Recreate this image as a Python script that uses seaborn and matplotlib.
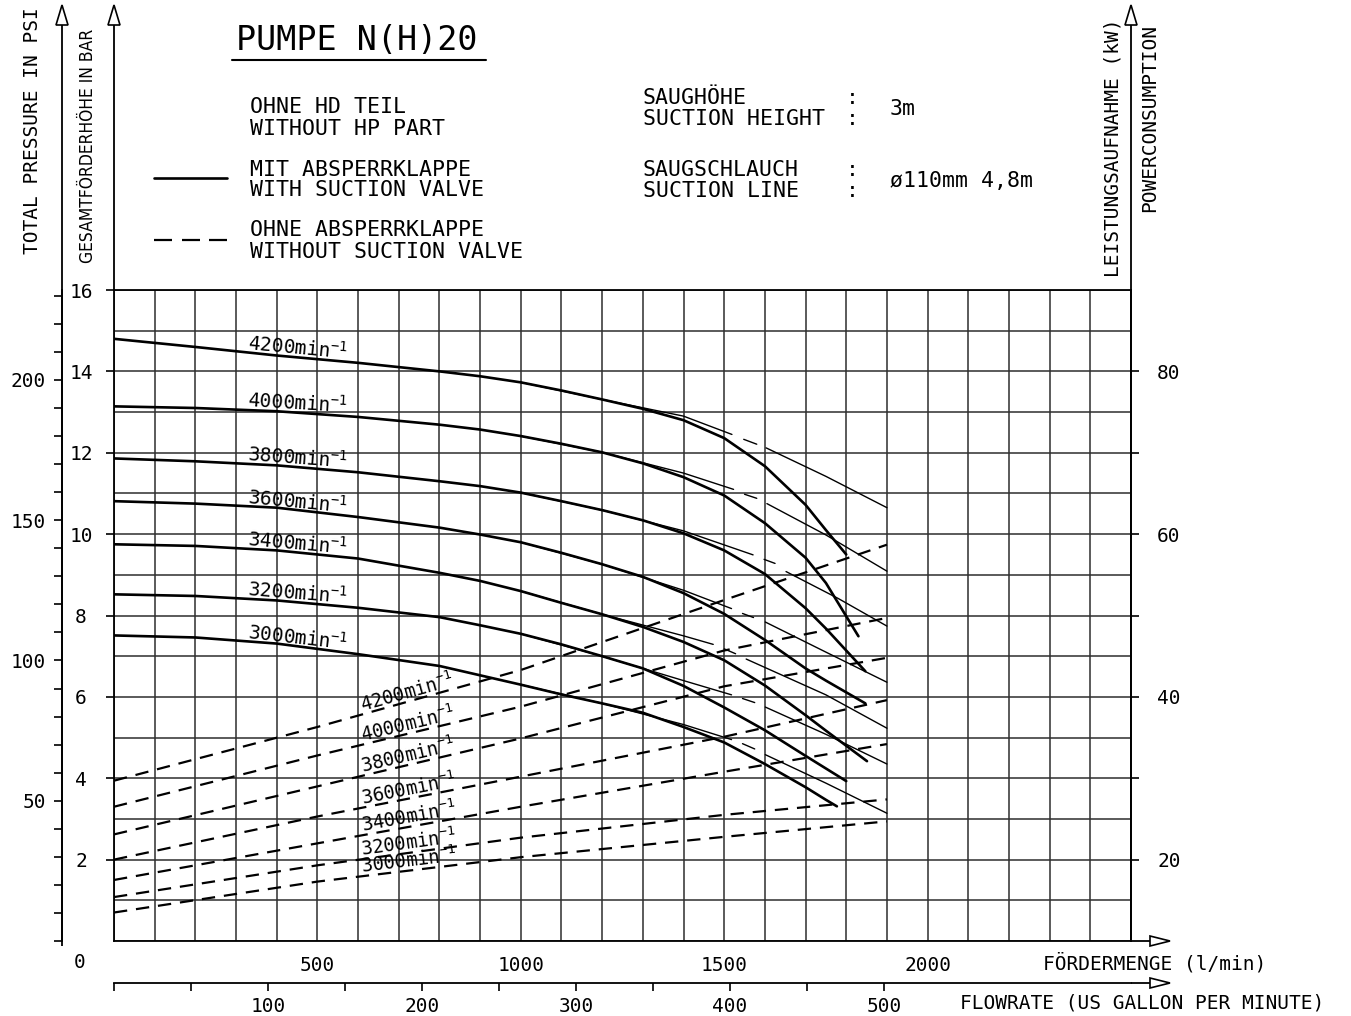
import numpy as np
import matplotlib
matplotlib.use("Agg")
import matplotlib.pyplot as plt
import seaborn as sns
from matplotlib.patches import Polygon
from matplotlib.ticker import MultipleLocator

sns.set_theme(style="white")
plt.rcParams['font.family'] = ['DejaVu Sans Mono', 'DejaVu Sans']
plt.rcParams['mathtext.default'] = 'regular'
plt.rcParams['text.color'] = 'black'

nan = np.nan

SPEEDS = [4200, 4000, 3800, 3600, 3400, 3200, 3000]

# head with suction valve (bar) over flow (l/min)
Q_HEAD = [0, 200, 400, 600, 800, 900, 1000, 1100, 1200, 1300, 1400, 1500, 1600, 1700, 1750]
H_4200 = [14.80, 14.60, 14.39, 14.21, 14.00, 13.88, 13.73, 13.53, 13.31, 13.08, 12.80, 12.36, 11.67, 10.72, 10.10]
H_4000 = [13.14, 13.10, 13.02, 12.88, 12.69, 12.57, 12.41, 12.22, 12.01, 11.74, 11.40, 10.95, 10.27, 9.42, 8.80]
H_3800 = [11.86, 11.79, 11.69, 11.52, 11.30, 11.18, 11.02, 10.81, 10.59, 10.34, 10.02, 9.60, 9.02, 8.18, 7.68]
H_3600 = [10.81, 10.75, 10.65, 10.42, 10.16, 9.99, 9.80, 9.54, 9.26, 8.95, 8.55, 8.04, 7.40, 6.70, 6.40]
H_3400 = [9.75, 9.71, 9.60, 9.40, 9.05, 8.85, 8.60, 8.31, 8.03, 7.72, 7.35, 6.90, 6.28, 5.55, 5.17]
H_3200 = [8.52, 8.48, 8.37, 8.19, 7.96, 7.76, 7.55, 7.29, 7.00, 6.70, 6.27, 5.74, 5.18, 4.55, 4.24]
H_3000 = [7.51, 7.46, 7.31, 7.05, 6.76, 6.53, 6.30, 6.06, 5.84, 5.61, 5.26, 4.88, 4.35, 3.78, 3.47]
HEAD_END_Q = [1800, 1830, 1847, 1847, 1851, 1800, 1777]
HEAD_END_H = [9.50, 7.49, 6.63, 5.84, 4.42, 3.93, 3.31]

# head without suction valve (nan = gap of the long-dash line)
Q_NV_4200 = [1000, 1200, 1400, 1519, nan, 1548, 1580, nan, 1603, 1750, 1900]
H_NV_4200 = [13.73, 13.31, 12.90, 12.45, nan, 12.33, 12.21, nan, 12.12, 11.42, 10.65]
Q_NV_4000 = [1000, 1200, 1400, 1523, nan, 1550, 1580, nan, 1605, 1750, 1900]
H_NV_4000 = [12.41, 12.01, 11.50, 11.10, nan, 10.98, 10.88, nan, 10.75, 9.98, 9.09]
Q_NV_3800 = [1000, 1200, 1400, 1571, nan, 1598, 1625, nan, 1652, 1780, 1900]
H_NV_3800 = [11.02, 10.59, 10.08, 9.49, nan, 9.38, 9.28, nan, 9.08, 8.42, 7.74]
Q_NV_3600 = [1000, 1200, 1400, 1518, nan, 1545, 1572, nan, 1601, 1750, 1900]
H_NV_3600 = [9.80, 9.26, 8.62, 8.17, nan, 8.05, 7.95, nan, 7.84, 7.10, 6.36]
Q_NV_3400 = [1000, 1200, 1400, 1473, nan, 1500, 1528, nan, 1554, 1750, 1900]
H_NV_3400 = [8.60, 8.03, 7.50, 7.29, nan, 7.18, 7.06, nan, 6.93, 6.05, 5.23]
Q_NV_3200 = [1000, 1200, 1400, 1518, nan, 1545, 1575, nan, 1601, 1750, 1900]
H_NV_3200 = [7.55, 7.00, 6.40, 6.05, nan, 5.96, 5.86, nan, 5.75, 5.08, 4.35]
Q_NV_3000 = [1000, 1200, 1400, 1518, nan, 1545, 1575, nan, 1601, 1750, 1900]
H_NV_3000 = [6.30, 5.84, 5.32, 4.95, nan, 4.85, 4.72, nan, 4.58, 3.88, 3.14]

# power consumption (kW)
Q_POWER = [0, 500, 1000, 1500, 1900]
P_4200 = [29.7, 36.3, 43.3, 51.9, 58.7]
P_4000 = [26.5, 32.8, 38.8, 45.7, 49.7]
P_3800 = [23.1, 29.0, 34.9, 41.3, 44.8]
P_3600 = [20.0, 25.3, 30.2, 35.1, 39.6]
P_3400 = [17.5, 22.0, 26.5, 30.8, 34.2]
P_3200 = [15.4, 19.3, 22.7, 25.5, 27.4]
P_3000 = [13.5, 17.3, 20.3, 22.8, 24.7]

LPM_PER_GPM = 3.78541
PSI_PER_BAR = 14.5038

HEADS = [H_4200, H_4000, H_3800, H_3600, H_3400, H_3200, H_3000]
NV_Q = [Q_NV_4200, Q_NV_4000, Q_NV_3800, Q_NV_3600, Q_NV_3400, Q_NV_3200, Q_NV_3000]
NV_H = [H_NV_4200, H_NV_4000, H_NV_3800, H_NV_3600, H_NV_3400, H_NV_3200, H_NV_3000]
POWERS = [P_4200, P_4000, P_3800, P_3600, P_3400, P_3200, P_3000]

W, H = 1351, 1016
fig = plt.figure(figsize=(W / 100, H / 100), dpi=100)
px0, px1, py0, py1 = 114, 1131, 290, 941
ax = fig.add_axes([px0 / W, 1 - py1 / H, (px1 - px0) / W, (py1 - py0) / H])
ax2 = ax.twinx()

# head curves
for h, qe, he in zip(HEADS, HEAD_END_Q, HEAD_END_H):
    sns.lineplot(x=Q_HEAD + [qe], y=h + [he], ax=ax, color='black', lw=1.9,
                 sort=False, estimator=None, errorbar=None)
for q, h in zip(NV_Q, NV_H):
    ax.plot(q, h, color='black', lw=1.0)

# power curves
for p in POWERS:
    sns.lineplot(x=Q_POWER, y=p, ax=ax2, color='black', lw=1.6,
                 linestyle=(0, (6, 4)), sort=False, estimator=None, errorbar=None)

ax.set_xlim(0, 2500)
ax.set_ylim(0, 16)
ax2.set_ylim(10, 90)
ax.set_xlabel('')
ax.set_ylabel('')
ax2.set_ylabel('')

# grid + ticks
ax.set_xticks([500, 1000, 1500, 2000])
ax.xaxis.set_minor_locator(MultipleLocator(100))
ax.set_yticks(range(2, 17, 2))
ax.yaxis.set_minor_locator(MultipleLocator(1))
ax.grid(True, which='both', color='#2e2e2e', lw=1.1)
ax.set_axisbelow(True)
ax.tick_params(which='minor', length=0)
ax.tick_params(axis='x', which='major', direction='out', length=5, width=1.2,
               pad=5.5, labelsize=14, colors='black')
ax.tick_params(axis='y', which='major', direction='out', length=5.8, width=1.2,
               pad=18, labelsize=14, colors='black')
for t in ax.get_yticklabels():
    t.set_horizontalalignment('center')
for s in ax.spines.values():
    s.set_color('black')
    s.set_linewidth(1.3)

ax2.set_yticks(range(20, 81, 10))
ax2.set_yticklabels([str(v) if v % 20 == 0 else '' for v in range(20, 81, 10)])
ax2.tick_params(axis='y', direction='out', length=5.8, width=1.2, pad=13,
                labelsize=14, colors='black')
ax2.grid(False)
for side in ['left', 'top', 'bottom']:
    ax2.spines[side].set_visible(False)
ax2.spines['right'].set_color('black')
ax2.spines['right'].set_linewidth(1.3)

# psi axis
sec = ax.secondary_yaxis(-(px0 - 62) / (px1 - px0),
                         functions=(lambda b: b * PSI_PER_BAR, lambda p: p / PSI_PER_BAR))
psi_ticks = list(range(0, 231, 10))
sec.set_yticks(psi_ticks)
sec.set_yticklabels([str(v) if v % 50 == 0 and v > 0 else '' for v in psi_ticks])
sec.tick_params(direction='out', length=5.8, width=1.2, pad=5.8, labelsize=14, colors='black')
sec.spines['left'].set_color('black')
sec.spines['left'].set_linewidth(1.3)

# us gallon axis
secx = ax.secondary_xaxis(-(983 - py1) / (py1 - py0),
                          functions=(lambda q: q / LPM_PER_GPM, lambda g: g * LPM_PER_GPM))
gpm_ticks = list(range(0, 501, 50))
secx.set_xticks(gpm_ticks)
secx.set_xticklabels([str(v) if v % 100 == 0 and v > 0 else '' for v in gpm_ticks])
secx.tick_params(direction='out', length=5.8, width=1.2, pad=4.3, labelsize=14, colors='black')
secx.spines['bottom'].set_color('black')
secx.spines['bottom'].set_linewidth(1.3)


def angle_on(axis, qs, vs, qa, qb):
    pa = axis.transData.transform((qa, np.interp(qa, qs, vs)))
    pb = axis.transData.transform((qb, np.interp(qb, qs, vs)))
    return np.degrees(np.arctan2(pb[1] - pa[1], pb[0] - pa[0]))


# speed labels
for s, h in zip(SPEEDS, HEADS):
    q0 = 327
    ang = angle_on(ax, Q_HEAD, h, q0, 560)
    ax.annotate(f"{s}min$^{{-1}}$", xy=(q0, np.interp(q0, Q_HEAD, h)), xytext=(0, 2),
                textcoords='offset points', rotation=ang, rotation_mode='anchor',
                ha='left', va='baseline', fontsize=14)
for s, p in zip(SPEEDS, POWERS):
    q0 = 610
    ang = angle_on(ax2, Q_POWER, p, q0, 800)
    ax2.annotate(f"{s}min$^{{-1}}$", xy=(q0, np.interp(q0, Q_POWER, p)), xytext=(0, 2),
                 textcoords='offset points', rotation=ang, rotation_mode='anchor',
                 ha='left', va='baseline', fontsize=13.5)

# drawing frame, arrows and header texts (pixel overlay)
ov = fig.add_axes([0, 0, 1, 1])
ov.set_xlim(0, W)
ov.set_ylim(H, 0)
ov.axis('off')
ov.patch.set_alpha(0)

lk = dict(color='black', lw=1.3, solid_capstyle='butt')
ov.plot([62, 62], [25, 946], **lk)
ov.plot([px0, px0], [25, py0], **lk)
ov.plot([px1, px1], [25, py0], **lk)
ov.plot([px1, 1150], [py1, py1], **lk)
ov.plot([px1, 1150], [983, 983], **lk)
for x in [62, px0, px1]:
    ov.add_patch(Polygon([[x - 6, 25], [x, 5], [x + 6, 25]], closed=True,
                         fc='white', ec='black', lw=1.2))
for y in [py1, 983]:
    ov.add_patch(Polygon([[1150, y - 5], [1170, y], [1150, y + 5]], closed=True,
                         fc='white', ec='black', lw=1.2))

ov.text(236, 41, "PUMPE N(H)20", fontsize=24, ha='left', va='center')
ov.plot([232, 486], [60, 60], color='black', lw=1.5)

tk = dict(fontsize=15.5, ha='left', va='center')
ov.text(250, 107, "OHNE HD TEIL", **tk)
ov.text(250, 129, "WITHOUT HP PART", **tk)
ov.text(250, 170, "MIT ABSPERRKLAPPE", **tk)
ov.text(250, 190, "WITH SUCTION VALVE", **tk)
ov.text(250, 230, "OHNE ABSPERRKLAPPE", **tk)
ov.text(250, 252, "WITHOUT SUCTION VALVE", **tk)
ov.plot([154, 227], [178, 178], color='black', lw=1.9)
for xa, xb in [(154, 172), (182, 200), (209, 227)]:
    ov.plot([xa, xb], [240, 240], color='black', lw=1.6, solid_capstyle='butt')

ov.text(643, 98, "SAUGHÖHE", **tk)
ov.text(643, 119, "SUCTION HEIGHT", **tk)
ov.text(643, 170, "SAUGSCHLAUCH", **tk)
ov.text(643, 191, "SUCTION LINE", **tk)
for y in [98, 119, 170, 191]:
    ov.text(846, y, ":", **tk)
ov.text(890, 109, "3m", **tk)
ov.text(890, 181, "ø110mm 4,8m", **tk)

ov.text(33, 131, "TOTAL PRESSURE IN PSI", rotation=90, ha='center', va='center', fontsize=14)
ov.text(88, 146, "GESAMTFÖRDERHÖHE IN BAR", rotation=90, ha='center', va='center',
        fontsize=12.5, family='DejaVu Sans', fontstretch='condensed')
ov.text(1113, 148, "LEISTUNGSAUFNAHME (kW)", rotation=90, ha='center', va='center', fontsize=14)
ov.text(1150, 118, "POWERCONSUMPTION", rotation=90, ha='center', va='center', fontsize=14)
ov.text(80, 963, "0", ha='center', va='center', fontsize=14)
ov.text(1043, 963, "FÖRDERMENGE (l/min)", ha='left', va='center', fontsize=14)
ov.text(960, 1003, "FLOWRATE (US GALLON PER MINUTE)", ha='left', va='center', fontsize=14)

fig.savefig('out.png', dpi=100)
